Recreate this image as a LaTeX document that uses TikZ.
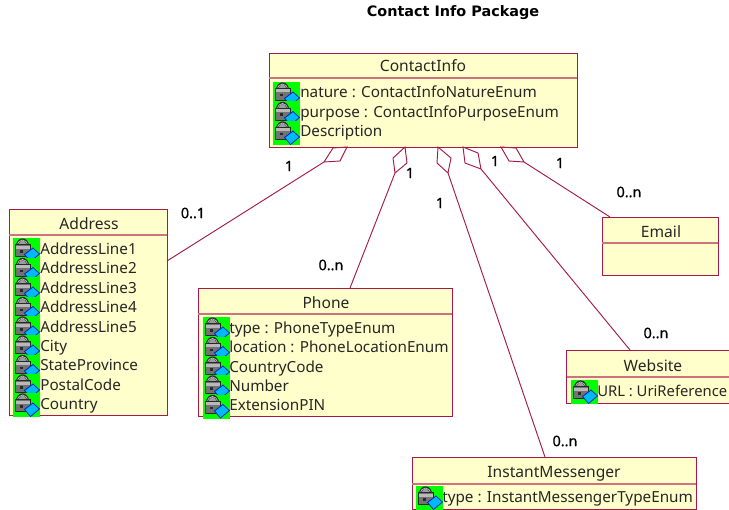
\documentclass[tikz,border=0pt]{standalone}
\usepackage{fontspec}
\usetikzlibrary{calc}
\setmainfont{Noto Sans}
\newfontfamily\titlefont{DejaVu Sans}
\newfontfamily\multfont[FakeBold=0.7]{Noto Sans}
\definecolor{umlline}{RGB}{165,25,75}
\definecolor{umlfill}{RGB}{255,255,204}
\definecolor{umldiv}{RGB}{205,115,125}
\definecolor{lockgray}{RGB}{115,115,115}
\definecolor{lockdark}{RGB}{40,40,45}
\definecolor{keyblue}{RGB}{0,185,250}
\definecolor{keydark}{RGB}{0,40,190}
\tikzset{
  classbox/.style={draw=umlline,fill=umlfill,line width=0.7pt,rectangle,anchor=north west,inner sep=0pt,outer sep=0pt},
  classname/.style={anchor=base,inner sep=0pt,font=\fontsize{11.7}{13}\selectfont,text=black!85},
  attr/.style={anchor=base west,inner sep=0pt,font=\fontsize{11.45}{13}\selectfont,text=black!85},
  mult/.style={anchor=center,inner sep=0pt,font=\fontsize{10.8}{13}\multfont,text=black},
  divider/.style={draw=umldiv,line width=0.9pt},
  assoc/.style={draw=umlline,line width=0.7pt,line join=miter},
}
% box: name, left, top, width, height
\newcommand{\umlbox}[5]{\node[classbox,minimum width=#4*0.75pt,minimum height=#5*0.75pt] (#1) at (#2,#3) {};}
\newcommand{\attricon}[2]{%
\begin{scope}[shift={(#1,#2-16)}]
  \fill[green] (0,0) rectangle (27,24);
  \fill[lockgray!70] (4.5,8) .. controls (4.5,-0.5) and (14.5,-0.5) .. (14.5,8) -- cycle;
  \draw[lockdark,line width=1.7pt] (4,9) .. controls (4,-1) and (15,-1) .. (15,9);
  \draw[lockgray!40,line width=0.5pt] (4.5,8) .. controls (4.5,0) and (14.5,0) .. (14.5,8);
  \fill[lockgray,draw=lockdark,line width=0.7pt] (2,6.5) rectangle (17.5,18.5);
  \fill[lockgray!50] (3,7.5) rectangle (16.5,10.5);
  \fill[lockdark] (6.5,12) rectangle (10,14.5);
  \fill[keyblue,draw=keydark,line width=0.6pt] (20,10) -- (26.5,16) -- (17.5,23.5) -- (11.5,16.5) -- cycle;
\end{scope}}
% diamond: near tip, left, far tip, right, then line from far tip
\newcommand{\aggr}[5]{\draw[assoc] (#1) -- (#2) -- (#3) -- (#4) -- cycle (#3) -- (#5);}
\begin{document}
\begin{tikzpicture}[x=0.75pt,y=-0.75pt]
\useasboundingbox (0,0) rectangle (729,510);
\clip (0,0) rectangle (729,510);
\fill[white] (0,0) rectangle (729,510);
\node[anchor=base,inner sep=0pt,font=\fontsize{10.8}{12}\titlefont\bfseries] (title) at (453,17) {Contact Info Package};

\umlbox{contact}{269}{53}{308}{94}
\umlbox{address}{9}{209}{158}{206}
\umlbox{phone}{198}{288}{254}{128}
\umlbox{email}{602}{217}{116}{58}
\umlbox{website}{566.5}{350}{175}{53}
\umlbox{messenger}{412}{457}{284}{52}

\draw[divider] (contact.north west |- 0,78) -- (contact.north east |- 0,78);
\draw[divider] (address.north west |- 0,235) -- (address.north east |- 0,235);
\draw[divider] (phone.north west |- 0,314) -- (phone.north east |- 0,314);
\draw[divider] (email.north west |- 0,243) -- (email.north east |- 0,243);
\draw[divider] (website.north west |- 0,377) -- (website.north east |- 0,377);
\draw[divider] (messenger.north west |- 0,484) -- (messenger.north east |- 0,484);

\node[classname] (n1) at (423,72) {ContactInfo};
\node[classname] (n2) at (89,229) {Address};
\node[classname] (n3) at (326,308) {Phone};
\node[classname] (n4) at (661,237) {Email};
\node[classname] (n5) at (653,371) {Website};
\node[classname] (n6) at (554,477) {InstantMessenger};

\node[attr] (c1) at (300,98) {nature : ContactInfoNatureEnum};
\node[attr] (c2) at (300,117.5) {purpose : ContactInfoPurposeEnum};
\node[attr] (c3) at (300,137) {Description};
\attricon{273}{98}\attricon{273}{117.5}\attricon{273}{137}

\node[attr] (a1) at (40,254) {AddressLine1};
\node[attr] (a2) at (40,273.5) {AddressLine2};
\node[attr] (a3) at (40,293) {AddressLine3};
\node[attr] (a4) at (40,312.5) {AddressLine4};
\node[attr] (a5) at (40,332) {AddressLine5};
\node[attr] (a6) at (40,351) {City};
\node[attr] (a7) at (40,370.5) {StateProvince};
\node[attr] (a8) at (40,390) {PostalCode};
\node[attr] (a9) at (40,409) {Country};
\foreach \yy in {254,273.5,293,312.5,332,351,370.5,390,409} {\attricon{13}{\yy}}

\node[attr] (p1) at (229,333) {type : PhoneTypeEnum};
\node[attr] (p2) at (229,352.5) {location : PhoneLocationEnum};
\node[attr] (p3) at (229,372) {CountryCode};
\node[attr] (p4) at (229,391) {Number};
\node[attr] (p5) at (229,410.5) {ExtensionPIN};
\foreach \yy in {333,352.5,372,391,410.5} {\attricon{203}{\yy}}

\node[attr,font=\fontsize{11.1}{13}\selectfont] (w1) at (597,396) {URL : UriReference};
\attricon{571}{396}
\node[attr] (m1) at (442,502) {type : InstantMessengerTypeEnum};
\attricon{416}{502}

\coordinate (endA) at ($(address.north east)+(0,52)$);
\coordinate (endP) at ($(phone.north west)+(152,0)$);
\coordinate (endM) at ($(messenger.north west)+(133,0)$);
\coordinate (endW) at ($(website.north west)+(63.5,0)$);
\coordinate (endE) at ($(email.north west)+(8,0)$);
\coordinate (a) at (347,147); \coordinate (b) at (333,148); \coordinate (c) at (324,162); \coordinate (d) at (340,161);
\aggr{a}{b}{c}{d}{endA}
\coordinate (a) at (405,147); \coordinate (b) at (393,158); \coordinate (c) at (395,173); \coordinate (d) at (407,163);
\aggr{a}{b}{c}{d}{endP}
\coordinate (a) at (438,147); \coordinate (b) at (437,163); \coordinate (c) at (448,173); \coordinate (d) at (451,158);
\aggr{a}{b}{c}{d}{endM}
\coordinate (a) at (463,147); \coordinate (b) at (465,163); \coordinate (c) at (481,169); \coordinate (d) at (478,153);
\aggr{a}{b}{c}{d}{endW}
\coordinate (a) at (501,147); \coordinate (b) at (509,161); \coordinate (c) at (524,162); \coordinate (d) at (516,148);
\aggr{a}{b}{c}{d}{endE}

\node[mult] (l1) at (289,166) {1};
\node[mult] (l2) at (193,213) {0..1};
\node[mult] (l3) at (410,173) {1};
\node[mult] (l4) at (331,265) {0..n};
\node[mult] (l5) at (440,203) {1};
\node[mult] (l6) at (495,161) {1};
\node[mult] (l7) at (560,163) {1};
\node[mult] (l8) at (629,192) {0..n};
\node[mult] (l9) at (656,333) {0..n};
\node[mult] (l10) at (565,441) {0..n};
\end{tikzpicture}
\end{document}
